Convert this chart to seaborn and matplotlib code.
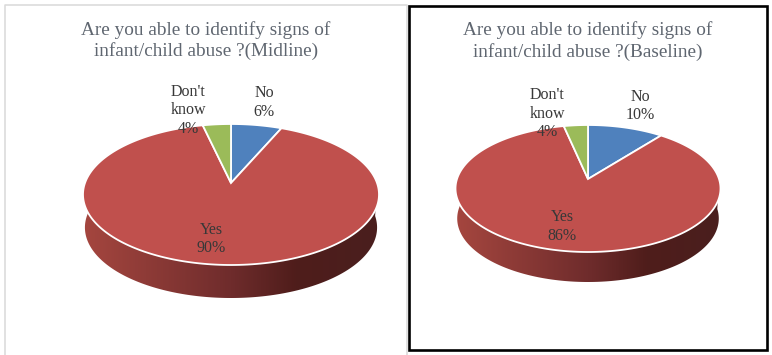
import numpy as np
import matplotlib
matplotlib.use("Agg")
import matplotlib.pyplot as plt
import seaborn as sns
from matplotlib.colors import LinearSegmentedColormap
from matplotlib.patches import Polygon, Rectangle
from matplotlib.path import Path
from matplotlib.transforms import Transform

categories = ["No", "Yes", "Don't\nknow"]
midline_values = [6.5, 89.9, 3.6]
midline_labels = [6, 90, 4]
baseline_values = [10.7, 85.9, 3.4]
baseline_labels = [10, 86, 4]
title_mid = "Are you able to identify signs of\ninfant/child abuse ?(Midline)"
title_base = "Are you able to identify signs of\ninfant/child abuse ?(Baseline)"

sns.set_theme(style="white")
plt.rcParams["font.family"] = ["Liberation Serif", "DejaVu Serif"]
colors = ["#4f81bd", "#c0504d", "#9bbb59"]
band_cmap = LinearSegmentedColormap.from_list(
    "band", [(0, "#a5463f"), (0.5, "#6f2c2c"), (0.72, "#4f1d1b"), (1, "#4a1f1e")])
W, H = 772, 355


class Tilt(Transform):
    input_dims = output_dims = 2

    def __init__(self, cx, apex, rx, top, bottom):
        super().__init__()
        u, d = apex - top, bottom - apex
        self.k = (d - u) / (d + u)
        self.a = u * (1 + self.k)
        self.b = rx * np.sqrt(1 - self.k ** 2)
        self.cx, self.apex = cx, apex

    def transform_non_affine(self, v):
        v = np.asarray(v)
        w = 1 + self.k * v[:, 1]
        return np.column_stack([self.cx + self.b * v[:, 0] / w,
                                self.apex - self.a * v[:, 1] / w])

    def transform_path_non_affine(self, path):
        pts = []
        for curve, code in path.iter_bezier():
            if code == Path.MOVETO:
                pts.append(curve.control_points)
            else:
                pts.append(curve(np.linspace(0, 1, 16))[1:])
        return Path(self.transform_non_affine(np.vstack(pts)), closed=False)


def panel(rect, values, shown, title, geo, title_xy, label_xy, spacing, title_spacing):
    x0, x1 = rect
    ax = fig.add_axes([x0 / W, 0, (x1 - x0) / W, 1])
    wedges, _ = ax.pie(values, colors=colors, startangle=90, counterclock=False,
                       wedgeprops=dict(edgecolor="white", linewidth=1.3))
    ax.set_aspect("auto")
    tilt = Tilt(geo["cx"], geo["apex"], geo["rx"], geo["top"], geo["bottom"])
    for w in wedges:
        w.set_transform(tilt + ax.transData)
        w.set_zorder(3)

    t = np.linspace(0, 2 * np.pi, 400)
    rim = tilt.transform_non_affine(np.column_stack([np.cos(t), np.sin(t)]))
    front = rim[(t >= np.pi * 0.97) & (t <= np.pi * 2.03)]
    low = np.column_stack([geo["cx"] + (front[:, 0] - geo["cx"]) * 0.987,
                           front[:, 1] + geo["depth"]])
    band = Polygon(np.vstack([front, low[::-1]]), closed=True, fc="none", ec="none",
                   transform=ax.transData)
    ax.add_patch(band)
    grad = np.linspace(0, 1, 256)[None, :]
    im = ax.imshow(grad, cmap=band_cmap, aspect="auto", zorder=2,
                   extent=(geo["cx"] - geo["rx"], geo["cx"] + geo["rx"],
                           geo["bottom"] + geo["depth"] + 2, geo["top"]))
    im.set_clip_path(band)

    ax.set_xlim(x0, x1)
    ax.set_ylim(H, 0)
    ax.set_axis_off()

    ax.text(*title_xy, title, ha="center", va="center", fontsize=13.9,
            color="#5f6670", linespacing=title_spacing, zorder=5)
    for cat, val, xy in zip(categories, shown, label_xy):
        ax.text(*xy, f"{cat}\n{val}%", ha="center", va="center", fontsize=11.5,
                color="#383838", linespacing=spacing, zorder=5)
    return ax


fig = plt.figure(figsize=(W / 100, H / 100), dpi=100, facecolor="white")

bg = fig.add_axes([0, 0, 1, 1])
bg.set_xlim(0, W)
bg.set_ylim(H, 0)
bg.set_axis_off()
bg.plot([4.5, 4.5, 407, 407], [H, 4.5, 4.5, H], color="#d9d9d9", lw=1.1)
bg.add_patch(Rectangle((408.7, 5.8), 358, 344.3, fc="white", ec="black", lw=1.9))

panel((5, 406), midline_values, midline_labels, title_mid,
      dict(cx=231, apex=183, rx=148, top=124, bottom=265, depth=33),
      (206, 40.5),
      [(264, 102.5), (211, 239), (188, 110.5)], 1.22, 1.2)
panel((410, 766), baseline_values, baseline_labels, title_base,
      dict(cx=588, apex=179, rx=132.5, top=125, bottom=252, depth=30),
      (588, 41),
      [(640, 106), (562, 226.5), (547, 113.5)], 1.18, 1.25)

fig.savefig("out.png", dpi=100)
